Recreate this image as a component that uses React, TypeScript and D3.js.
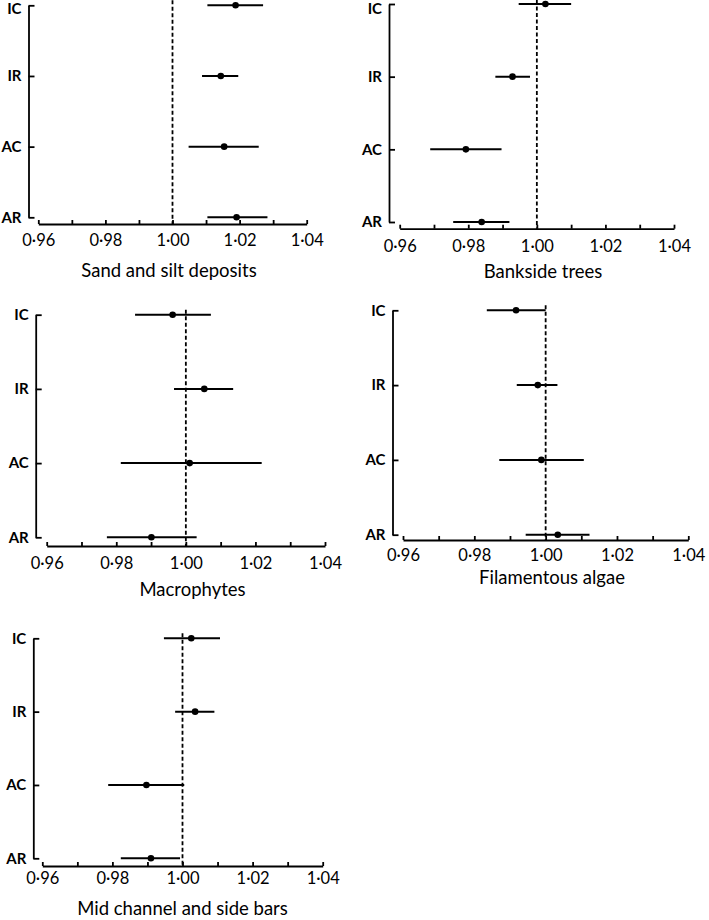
import React, { useEffect, useRef } from "react"
import * as d3 from "d3"

// categories on the y axis, top to bottom
const categories = ["IC", "IR", "AC", "AR"]

const xTicks = [0.96, 0.97, 0.98, 0.99, 1.0, 1.01, 1.02, 1.03, 1.04]
const xTickLabels = ["0·96", "", "0·98", "", "1·00", "", "1·02", "", "1·04"]

const titles = [
    "Sand and silt deposits",
    "Bankside trees",
    "Macrophytes",
    "Filamentous algae",
    "Mid channel and side bars",
]

// estimate and 95% interval, in the order of categories
const sandMean = [1.0188, 1.0144, 1.0154, 1.0191]
const sandLow = [1.0104, 1.0088, 1.0048, 1.0104]
const sandHigh = [1.027, 1.0196, 1.0257, 1.0283]

const treesMean = [1.0025, 0.9929, 0.9793, 0.9839]
const treesLow = [0.9947, 0.9879, 0.9689, 0.9756]
const treesHigh = [1.01, 0.998, 0.9897, 0.992]

const macroMean = [0.9962, 1.0053, 1.0011, 0.9901]
const macroLow = [0.9854, 0.9966, 0.9813, 0.9773]
const macroHigh = [1.0072, 1.0136, 1.0218, 1.0031]

const algaeMean = [0.9917, 0.9978, 0.9988, 1.0034]
const algaeLow = [0.9835, 0.9919, 0.987, 0.9944]
const algaeHigh = [1.0, 1.0033, 1.0107, 1.0123]

const barsMean = [1.0025, 1.0036, 0.9897, 0.991]
const barsLow = [0.9947, 0.9979, 0.9788, 0.9824]
const barsHigh = [1.0107, 1.0091, 1.0005, 0.9993]

const seriesMean = [sandMean, treesMean, macroMean, algaeMean, barsMean]
const seriesLow = [sandLow, treesLow, macroLow, algaeLow, barsLow]
const seriesHigh = [sandHigh, treesHigh, macroHigh, algaeHigh, barsHigh]

// where each small panel sits on the page
const layout = [
    { axisX: 28.5, top: 5.3, bottom: 217.3, axisY: 224, x0: 38.3, x1: 306.7, tickBase: 22, titleX: 169, titleY: 276.5 },
    { axisX: 389, top: 4, bottom: 222, axisY: 228.7, x0: 399.7, x1: 674, tickBase: 23, titleX: 543, titleY: 278 },
    { axisX: 35.7, top: 314.7, bottom: 537.3, axisY: 546, x0: 46.7, x1: 325, tickBase: 22.5, titleX: 192.5, titleY: 596 },
    { axisX: 392.5, top: 310.3, bottom: 534.7, axisY: 540, x0: 403, x1: 688.3, tickBase: 21, titleX: 552, titleY: 584 },
    { axisX: 33.3, top: 638.3, bottom: 858.3, axisY: 866, x0: 42.3, x1: 322.7, tickBase: 17.5, titleX: 182.5, titleY: 915 },
]

const font = "Lato, 'Open Sans', sans-serif"

export default function App() {
    const ref = useRef<SVGSVGElement>(null)

    useEffect(() => {
        const svg = d3.select(ref.current)
        svg.selectAll("*").remove()

        layout.forEach((p, k) => {
            let x = d3.scaleLinear().domain([0.96, 1.04]).range([p.x0, p.x1])
            let y = d3.scalePoint().domain(categories).range([p.top, p.bottom])
            let g = svg.append("g")

            // reference line at 1
            g.append("line")
                .attr("x1", x(1)).attr("x2", x(1))
                .attr("y1", Math.max(0, p.top - 5)).attr("y2", p.axisY)
                .attr("stroke", "#000")
                .attr("stroke-width", 1.8)
                .attr("stroke-dasharray", "4,2.5")

            let xAxis = g.append("g")
                .attr("transform", `translate(0, ${p.axisY})`)
                .call(d3.axisBottom(x)
                    .tickValues(xTicks)
                    .tickFormat((d, i) => xTickLabels[i])
                    .tickSizeInner(-4)
                    .tickSizeOuter(0))
            xAxis.selectAll("path, line").attr("stroke", "#000").attr("stroke-width", 1.8)
            xAxis.selectAll("text")
                .attr("y", p.tickBase).attr("dy", 0)
                .attr("fill", "#000")
                .style("font-family", font).style("font-size", "16.5px")

            let yAxis = g.append("g")
                .attr("transform", `translate(${p.axisX}, 0)`)
                .call(d3.axisLeft(y).tickSizeInner(-6).tickSizeOuter(0).tickPadding(7))
            yAxis.selectAll("path, line").attr("stroke", "#000").attr("stroke-width", 1.8)
            yAxis.selectAll("text")
                .attr("fill", "#000")
                .style("font-family", font).style("font-size", "15px").style("font-weight", "bold")
            // keep a label at the very top of the page inside it
            yAxis.selectAll(".tick")
                .filter(d => y(d) < 9)
                .select("text")
                .attr("y", d => 9 - y(d))

            let rows = categories.map((c, i) => ({
                c, mean: seriesMean[k][i], low: seriesLow[k][i], high: seriesHigh[k][i],
            }))

            g.selectAll(".bar").data(rows).enter().append("line")
                .attr("x1", d => x(d.low)).attr("x2", d => x(d.high))
                .attr("y1", d => y(d.c)).attr("y2", d => y(d.c))
                .attr("stroke", "#000").attr("stroke-width", 2)

            g.selectAll("circle").data(rows).enter().append("circle")
                .attr("cx", d => x(d.mean)).attr("cy", d => y(d.c))
                .attr("r", 3.3)
                .attr("fill", "#000")

            g.append("text")
                .attr("x", p.titleX).attr("y", p.titleY)
                .attr("text-anchor", "middle")
                .style("font-family", font).style("font-size", "18.5px")
                .text(titles[k])
        })
    }, [])

    return (
        <svg ref={ref} width={709} height={920}
            style={{ position: "absolute", left: 0, top: 0, background: "#fff" }} />
    )
}
